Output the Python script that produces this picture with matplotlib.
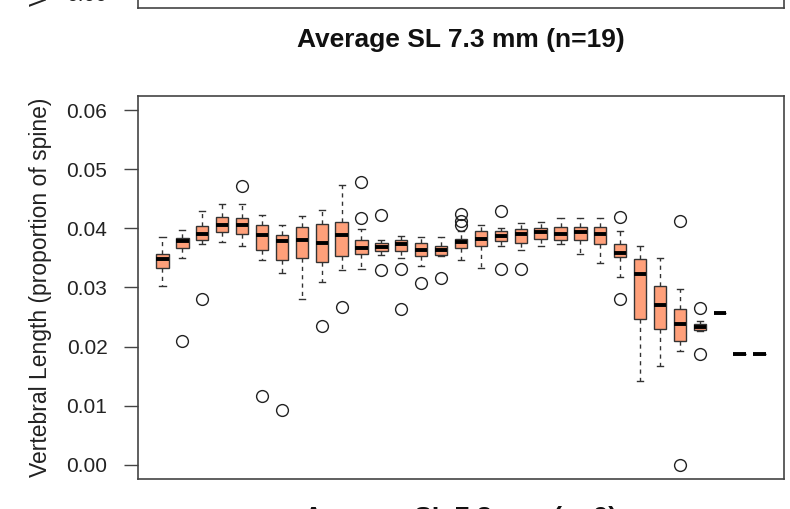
import matplotlib
matplotlib.use("Agg")
import matplotlib.pyplot as plt

plt.rcParams['font.family'] = ['Liberation Sans', 'DejaVu Sans']

title_main = "Average SL 7.3 mm (n=19)"
title_next = "Average SL 7.8 mm (n=9)"
y_label = "Vertebral Length (proportion of spine)"
y_ticks = [0.00, 0.01, 0.02, 0.03, 0.04, 0.05, 0.06]
y_tick_labels = ["0.00", "0.01", "0.02", "0.03", "0.04", "0.05", "0.06"]

positions = list(range(1, 32))
whislo = [0.0303, 0.0350, 0.0374, 0.0377, 0.0371, 0.0347, 0.0325, 0.0281, 0.0309, 0.0330,
          0.0332, 0.0355, 0.0350, 0.0337, 0.0353, 0.0347, 0.0333, 0.0370, 0.0363, 0.0370,
          0.0374, 0.0356, 0.0342, 0.0317, 0.0141, 0.0168, 0.0192, 0.0227, 0.0257, 0.0188, 0.0188]
q1 = [0.0333, 0.0367, 0.0381, 0.0394, 0.0391, 0.0364, 0.0347, 0.0350, 0.0343, 0.0353,
      0.0357, 0.0361, 0.0361, 0.0353, 0.0355, 0.0366, 0.0371, 0.0378, 0.0376, 0.0382,
      0.0381, 0.0381, 0.0374, 0.0351, 0.0246, 0.0229, 0.0209, 0.0228, 0.0257, 0.0188, 0.0188]
med = [0.0348, 0.0378, 0.0391, 0.0406, 0.0406, 0.0388, 0.0378, 0.0381, 0.0376, 0.0388,
       0.0367, 0.0368, 0.0374, 0.0364, 0.0364, 0.0377, 0.0382, 0.0387, 0.0391, 0.0394,
       0.0391, 0.0394, 0.0390, 0.0358, 0.0322, 0.0271, 0.0239, 0.0233, 0.0257, 0.0188, 0.0188]
q3 = [0.0357, 0.0383, 0.0404, 0.0420, 0.0418, 0.0406, 0.0388, 0.0402, 0.0407, 0.0411,
      0.0381, 0.0376, 0.0380, 0.0375, 0.0370, 0.0382, 0.0396, 0.0395, 0.0399, 0.0401,
      0.0403, 0.0402, 0.0403, 0.0374, 0.0349, 0.0302, 0.0263, 0.0239, 0.0257, 0.0188, 0.0188]
whishi = [0.0386, 0.0398, 0.0429, 0.0442, 0.0442, 0.0423, 0.0406, 0.0421, 0.0431, 0.0473,
          0.0399, 0.0381, 0.0387, 0.0386, 0.0386, 0.0395, 0.0406, 0.0400, 0.0409, 0.0410,
          0.0418, 0.0418, 0.0418, 0.0395, 0.0371, 0.0350, 0.0298, 0.0243, 0.0257, 0.0188, 0.0188]
outliers = [[], [0.0210], [0.0280], [], [0.0471], [0.0116], [0.0093], [], [0.0235], [0.0267],
            [0.0478, 0.0418], [0.0422, 0.0330], [0.0332, 0.0264], [0.0308], [0.0316],
            [0.0424, 0.0412, 0.0405], [], [0.0429, 0.0332], [0.0332], [],
            [], [], [], [0.0419, 0.0281], [], [], [0.0412, 0.0000], [0.0265, 0.0187], [], [], []]

W, H = 790, 509
fig = plt.figure(figsize=(W / 100, H / 100), dpi=100)

ax_l, ax_r, ax_t, ax_b = 138, 784, 96, 479
ax_w = (ax_r - ax_l) / W
ax_h = (ax_b - ax_t) / H
ylim = (-0.0024, 0.0624)
xlim = (-0.23, 32.23)
spine_col = '#444444'
tick_fs = 15


def style_axes(ax):
    ax.set_ylim(*ylim)
    ax.set_xlim(*xlim)
    ax.set_xticks([])
    ax.set_yticks(y_ticks)
    ax.set_yticklabels(y_tick_labels, fontsize=tick_fs, color='#222222')
    ax.tick_params(axis='y', length=10, width=1, color=spine_col, pad=12)
    for s in ax.spines.values():
        s.set_color(spine_col)
        s.set_linewidth(1.2)


# partial panel above (cropped)
ax_top = fig.add_axes([ax_l / W, (H - 8) / H, ax_w, ax_h])
style_axes(ax_top)

# main panel
ax = fig.add_axes([ax_l / W, (H - ax_b) / H, ax_w, ax_h])

stats = []
for i in range(len(positions)):
    stats.append(dict(med=med[i], q1=q1[i], q3=q3[i], whislo=whislo[i],
                      whishi=whishi[i], fliers=outliers[i]))

ax.bxp(stats, positions=positions, widths=0.62, patch_artist=True, manage_ticks=False,
       boxprops=dict(facecolor='#FFA07A', edgecolor='#333333', linewidth=1.0),
       medianprops=dict(color='black', linewidth=2.8, solid_capstyle='butt'),
       whiskerprops=dict(color='#333333', linewidth=1.0, linestyle=(0, (3, 3))),
       capprops=dict(color='#333333', linewidth=1.0),
       flierprops=dict(marker='o', markerfacecolor='none', markeredgecolor='#222222',
                       markersize=8.5, markeredgewidth=1.0))
style_axes(ax)

# y labels (main panel and cropped panel above)
for yc in [(ax_t + ax_b) / 2, (ax_t + ax_b) / 2 - 471]:
    fig.text(41 / W, 1 - yc / H, y_label, rotation=90, fontsize=16.5,
             ha='center', va='center', color='#222222')

cx = (ax_l + ax_r) / 2 / W
fig.text(cx, 1 - 40 / H, title_main, fontsize=19, fontweight='bold',
         ha='center', va='center', color='#111111')
fig.text(cx, 1 - 518 / H, title_next, fontsize=19, fontweight='bold',
         ha='center', va='center', color='#111111')

fig.savefig('out.png', dpi=100)
